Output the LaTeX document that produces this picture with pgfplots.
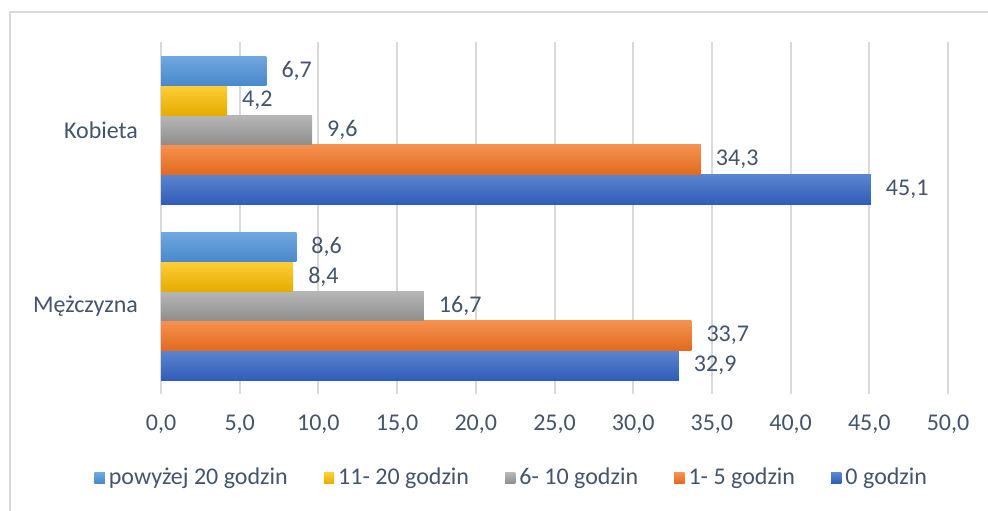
\documentclass[border=0pt]{standalone}
\usepackage{fontspec}
\setmainfont{Carlito}
\usepackage{pgfplots}
\pgfplotsset{compat=1.18}
\definecolor{textc}{RGB}{68,84,106}
\definecolor{gridc}{RGB}{217,217,217}
\definecolor{c0t}{RGB}{92,133,208}\definecolor{c0b}{RGB}{47,93,184}
\definecolor{c1t}{RGB}{245,146,80}\definecolor{c1b}{RGB}{226,106,30}
\definecolor{c2t}{RGB}{182,182,182}\definecolor{c2b}{RGB}{142,142,142}
\definecolor{c3t}{RGB}{255,206,56}\definecolor{c3b}{RGB}{229,172,0}
\definecolor{c4t}{RGB}{112,168,222}\definecolor{c4b}{RGB}{72,136,204}
\begin{document}
\begin{tikzpicture}[x=1pt,y=1pt]
\useasboundingbox (0,0) rectangle (494,255);
\draw[gridc, line width=1pt] (5,249) rectangle (500,-10);
\begin{axis}[
  at={(80.5pt,58pt)}, anchor=south west, scale only axis,
  width=393.5pt, height=176pt,
  xbar=0pt, bar width=14.8pt,
  xmin=0, xmax=50, ymin=-0.5, ymax=1.5,
  xtick={0,5,10,15,20,25,30,35,40,45,50},
  ytick={0,1}, yticklabels={Mężczyzna,Kobieta},
  xmajorgrids, grid style={gridc, line width=1pt},
  axis line style={draw=none}, major tick length=0pt,
  /pgf/number format/fixed, /pgf/number format/fixed zerofill,
  /pgf/number format/precision=1, /pgf/number format/use comma,
  /pgf/number format/assume math mode=true,
  tick label style={font=\fontsize{12}{14}\selectfont, text=textc},
  xticklabel style={yshift=-7pt},
  yticklabel style={xshift=-8pt},
  nodes near coords,
  every node near coord/.append style={font=\fontsize{12}{14}\selectfont, text=textc, xshift=4pt},
  legend columns=5, reverse legend,
  legend style={at={(0.447,-0.239)}, anchor=center, draw=none, fill=none,
    font=\fontsize{12}{14}\selectfont, text=textc,
    /tikz/every even column/.append style={column sep=16pt}},
  legend image code/.code={\fill[#1] (0pt,-2.6pt) rectangle (5.2pt,2.6pt);},
]
% Kobieta (y=1), in legend
\addplot[draw=none, top color=c0t, bottom color=c0b, bar shift=-29.6pt] coordinates {(45.1,1)};
\addplot[draw=none, top color=c1t, bottom color=c1b, bar shift=-14.8pt] coordinates {(34.3,1)};
\addplot[draw=none, top color=c2t, bottom color=c2b, bar shift=0pt] coordinates {(9.6,1)};
\addplot[draw=none, top color=c3t, bottom color=c3b, bar shift=14.8pt] coordinates {(4.2,1)};
\addplot[draw=none, top color=c4t, bottom color=c4b, bar shift=29.6pt] coordinates {(6.7,1)};
\legend{0 godzin, 1- 5 godzin, 6- 10 godzin, 11- 20 godzin, powyżej 20 godzin}
% Mężczyzna (y=0)
\addplot[forget plot, draw=none, top color=c0t, bottom color=c0b, bar shift=-29.6pt] coordinates {(32.9,0)};
\addplot[forget plot, draw=none, top color=c1t, bottom color=c1b, bar shift=-14.8pt] coordinates {(33.7,0)};
\addplot[forget plot, draw=none, top color=c2t, bottom color=c2b, bar shift=0pt] coordinates {(16.7,0)};
\addplot[forget plot, draw=none, top color=c3t, bottom color=c3b, bar shift=14.8pt] coordinates {(8.4,0)};
\addplot[forget plot, draw=none, top color=c4t, bottom color=c4b, bar shift=29.6pt] coordinates {(8.6,0)};
\end{axis}
\end{tikzpicture}
\end{document}
